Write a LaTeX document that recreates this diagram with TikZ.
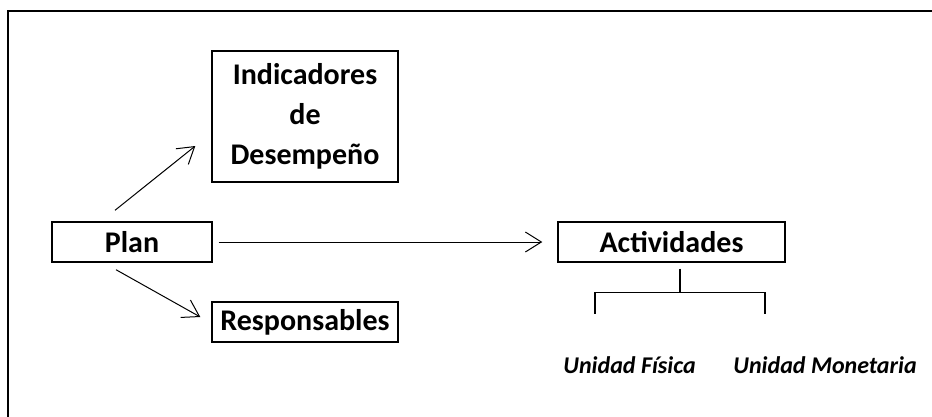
\documentclass[tikz,border=0pt]{standalone}
\usepackage{fontspec}
\setmainfont{Carlito}
\usetikzlibrary{arrows.meta,calc}
\begin{document}
\begin{tikzpicture}[x=1pt,y=-1pt,
  boxnode/.style={draw,line width=1.4pt,inner sep=0pt,font=\fontsize{30}{40}\selectfont\bfseries,align=center},
  arr/.style={line width=1pt,-{Straight Barb[length=16pt,width=20pt]}},
  lbl/.style={font=\fontsize{24}{28}\selectfont\bfseries\itshape,inner sep=0pt,anchor=base},
  brk/.style={line width=1.2pt}]
\useasboundingbox (0,0) rectangle (932,416);
\draw[line width=1.4pt] (8,420) -- (8,11) -- (936,11);
\node[boxnode,minimum width=186pt,minimum height=131pt] (ind) at (305,116.5) {Indicadores\\de\\Desempeño};
\node[boxnode,minimum width=160pt,minimum height=40pt] (plan) at (132,242) {Plan};
\node[boxnode,minimum width=186pt,minimum height=40pt] (resp) at (305,322) {Responsables};
\node[boxnode,minimum width=227pt,minimum height=40pt] (act) at (671.5,242) {Actividades};
\node[lbl] (uf) at (629.5,373) {Unidad Física};
\node[lbl] (um) at (825,373) {Unidad Monetaria};
\draw[arr] ($(plan.north)+(-17,-11)$) -- ($(ind.west)+(-16,29.5)$);
\draw[arr] ($(plan.south)+(-16,7)$) -- ($(resp.west)+(-11,-5)$);
\draw[arr] ($(plan.east)+(6,0)$) -- ($(act.west)+(-15,0)$);
\coordinate (bt) at ($(act.south)+(8.5,6)$);
\coordinate (bm) at ($(act.south)+(8.5,30)$);
\coordinate (bl) at ($(uf.north)+(-34.5,-42)$);
\coordinate (br) at ($(um.north)+(-60,-42)$);
\draw[brk] (bt) -- (bm);
\draw[brk] (bl) |- (bm) -| (br);
\end{tikzpicture}
\end{document}
